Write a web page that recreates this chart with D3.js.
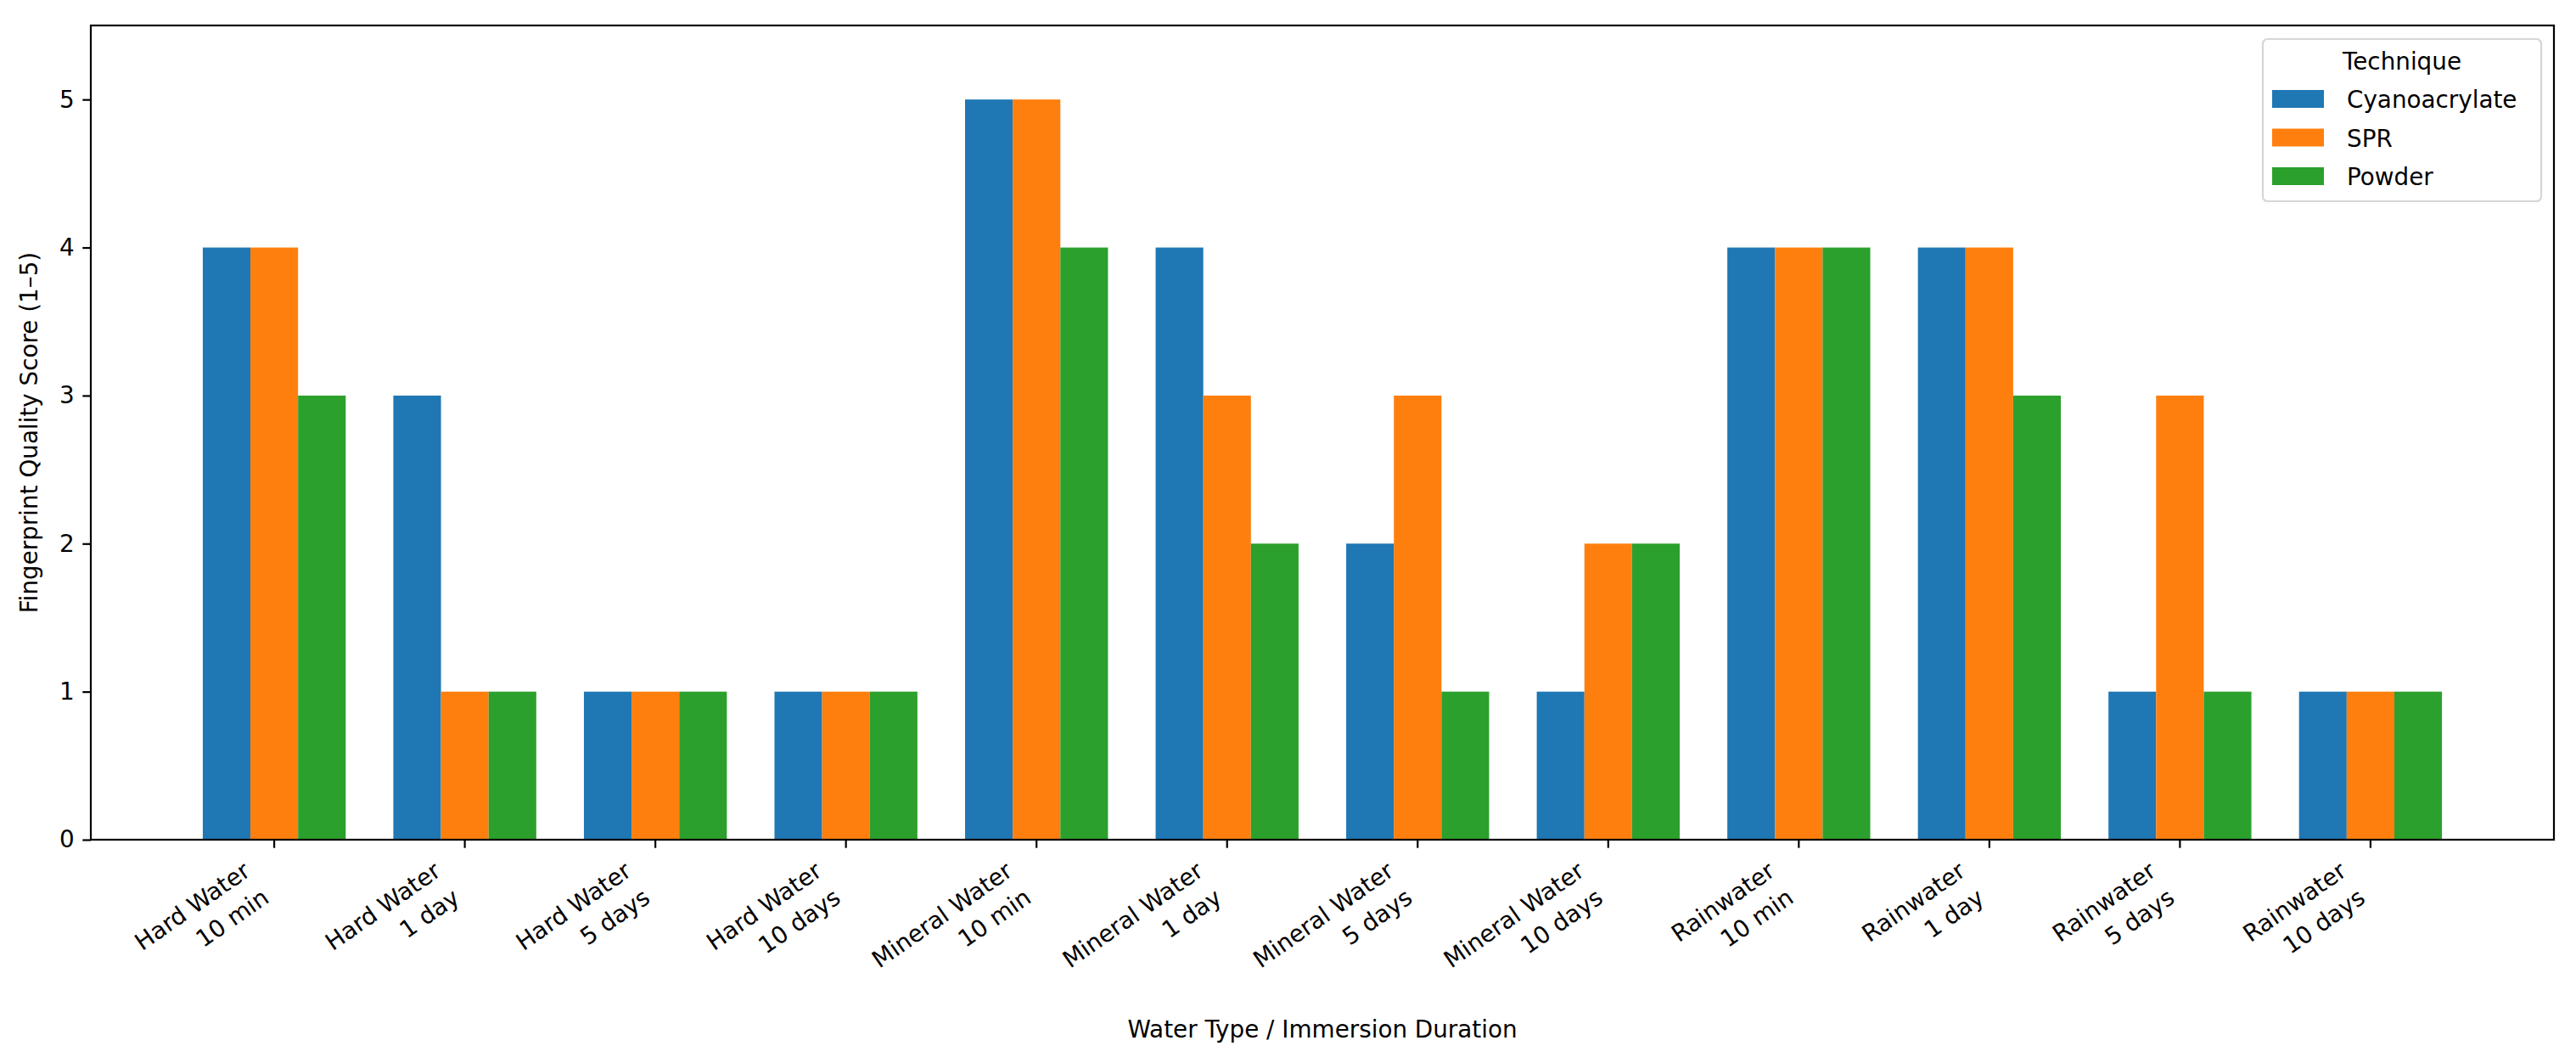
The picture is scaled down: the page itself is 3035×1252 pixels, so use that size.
<!DOCTYPE html>
<html>
<head>
<meta charset="utf-8">
<script src="https://cdn.jsdelivr.net/npm/d3@7"></script>
<style>
  body { margin: 0; background: #fff; }
  text { font-family: "DejaVu Sans", sans-serif; fill: #000; }
</style>
</head>
<body>
<div id="chart"></div>
<script>
// chart data
const waterTypes = ["Hard Water", "Hard Water", "Hard Water", "Hard Water",
    "Mineral Water", "Mineral Water", "Mineral Water", "Mineral Water",
    "Rainwater", "Rainwater", "Rainwater", "Rainwater"];
const durations = ["10 min", "1 day", "5 days", "10 days",
    "10 min", "1 day", "5 days", "10 days",
    "10 min", "1 day", "5 days", "10 days"];
const techniques = ["Cyanoacrylate", "SPR", "Powder"];
const cyanoacrylate = [4, 3, 1, 1, 5, 4, 2, 1, 4, 4, 1, 1];
const spr = [4, 1, 1, 1, 5, 3, 3, 2, 4, 4, 3, 1];
const powder = [3, 1, 1, 1, 4, 2, 1, 2, 4, 3, 1, 1];
const yTicks = [0, 1, 2, 3, 4, 5];

const series = [cyanoacrylate, spr, powder];
const colors = ["#1f77b4", "#ff7f0e", "#2ca02c"];

const W = 3035, H = 1252;
const margin = { left: 107, right: 3009, top: 30, bottom: 989 };
const fs = 27.8;           // 10pt at 200 dpi
const tickLen = 9.7, tickPad = 9.7;
const barW = 0.25;
const labelAngle = 35;

const svg = d3.select("#chart").append("svg")
    .attr("width", W)
    .attr("height", H);

svg.append("rect").attr("width", W).attr("height", H).attr("fill", "#fff");

const n = cyanoacrylate.length;
const x = d3.scaleLinear()
    .domain([-0.375 - 0.5875, n - 1 + 0.375 + 0.5875])
    .range([margin.left, margin.right]);
const y = d3.scaleLinear()
    .domain([0, 5.5])
    .range([margin.bottom, margin.top]);

// bars
series.forEach((vals, si) => {
    svg.append("g")
        .selectAll("rect")
        .data(vals)
        .enter().append("rect")
        .attr("x", (d, i) => x(i + (si - 1) * barW - barW / 2))
        .attr("width", (d, i) => x(i + (si - 1) * barW + barW / 2) - x(i + (si - 1) * barW - barW / 2))
        .attr("y", d => y(d))
        .attr("height", d => y(0) - y(d))
        .attr("fill", colors[si]);
});

// y axis
const yAxis = svg.append("g")
    .attr("transform", `translate(${margin.left},0)`)
    .call(d3.axisLeft(y).tickValues(yTicks).tickSize(tickLen).tickPadding(tickPad).tickFormat(d3.format("d")));
yAxis.select(".domain").remove();
yAxis.selectAll("line").attr("stroke", "#000").attr("stroke-width", 2.2);
yAxis.selectAll("text").attr("font-size", fs).attr("font-family", "DejaVu Sans").attr("fill", "#000");

// x ticks
const xg = svg.append("g");
xg.selectAll("line")
    .data(d3.range(n))
    .enter().append("line")
    .attr("x1", d => x(d)).attr("x2", d => x(d))
    .attr("y1", margin.bottom).attr("y2", margin.bottom + tickLen)
    .attr("stroke", "#000").attr("stroke-width", 2.2);

// rotated two-line tick labels, aligned like matplotlib ha='right'
const rad = labelAngle * Math.PI / 180;
d3.range(n).forEach(i => {
    const t = xg.append("text")
        .attr("font-size", fs)
        .attr("text-anchor", "end");
    t.append("tspan").attr("x", 0).attr("y", 0).text(waterTypes[i]);
    t.append("tspan").attr("x", 0).attr("dy", fs * 1.38).text(durations[i]);
    const b = t.node().getBBox();
    const corners = [[b.x, b.y], [b.x + b.width, b.y], [b.x, b.y + b.height], [b.x + b.width, b.y + b.height]]
        .map(([px, py]) => [px * Math.cos(rad) + py * Math.sin(rad), -px * Math.sin(rad) + py * Math.cos(rad)]);
    const maxX = d3.max(corners, c => c[0]);
    const minY = d3.min(corners, c => c[1]);
    const tx = x(i) - maxX;
    const ty = margin.bottom + tickLen + tickPad - minY;
    t.attr("transform", `translate(${tx},${ty}) rotate(${-labelAngle})`);
});

// spines
svg.append("rect")
    .attr("x", margin.left).attr("y", margin.top)
    .attr("width", margin.right - margin.left)
    .attr("height", margin.bottom - margin.top)
    .attr("fill", "none").attr("stroke", "#000").attr("stroke-width", 2.2);

// axis labels
svg.append("text")
    .attr("x", (margin.left + margin.right) / 2)
    .attr("y", 1222)
    .attr("text-anchor", "middle")
    .attr("font-size", fs)
    .text("Water Type / Immersion Duration");

svg.append("text")
    .attr("transform", `translate(44,${(margin.top + margin.bottom) / 2}) rotate(-90)`)
    .attr("text-anchor", "middle")
    .attr("font-size", fs)
    .text("Fingerprint Quality Score (1–5)");

// legend
const lg = svg.append("g");
lg.append("rect")
    .attr("x", 2666).attr("y", 46)
    .attr("width", 328).attr("height", 191)
    .attr("rx", 5.5)
    .attr("fill", "#fff").attr("fill-opacity", 0.8)
    .attr("stroke", "#d6d6d6").attr("stroke-width", 2.2);
lg.append("text")
    .attr("x", 2830).attr("y", 82)
    .attr("text-anchor", "middle")
    .attr("font-size", fs)
    .text("Technique");
techniques.forEach((name, i) => {
    lg.append("rect")
        .attr("x", 2677).attr("y", 106 + i * 45.5)
        .attr("width", 61).attr("height", 21)
        .attr("fill", colors[i]);
    lg.append("text")
        .attr("x", 2765).attr("y", 127 + i * 45.5)
        .attr("font-size", fs)
        .text(name);
});
</script>
</body>
</html>
